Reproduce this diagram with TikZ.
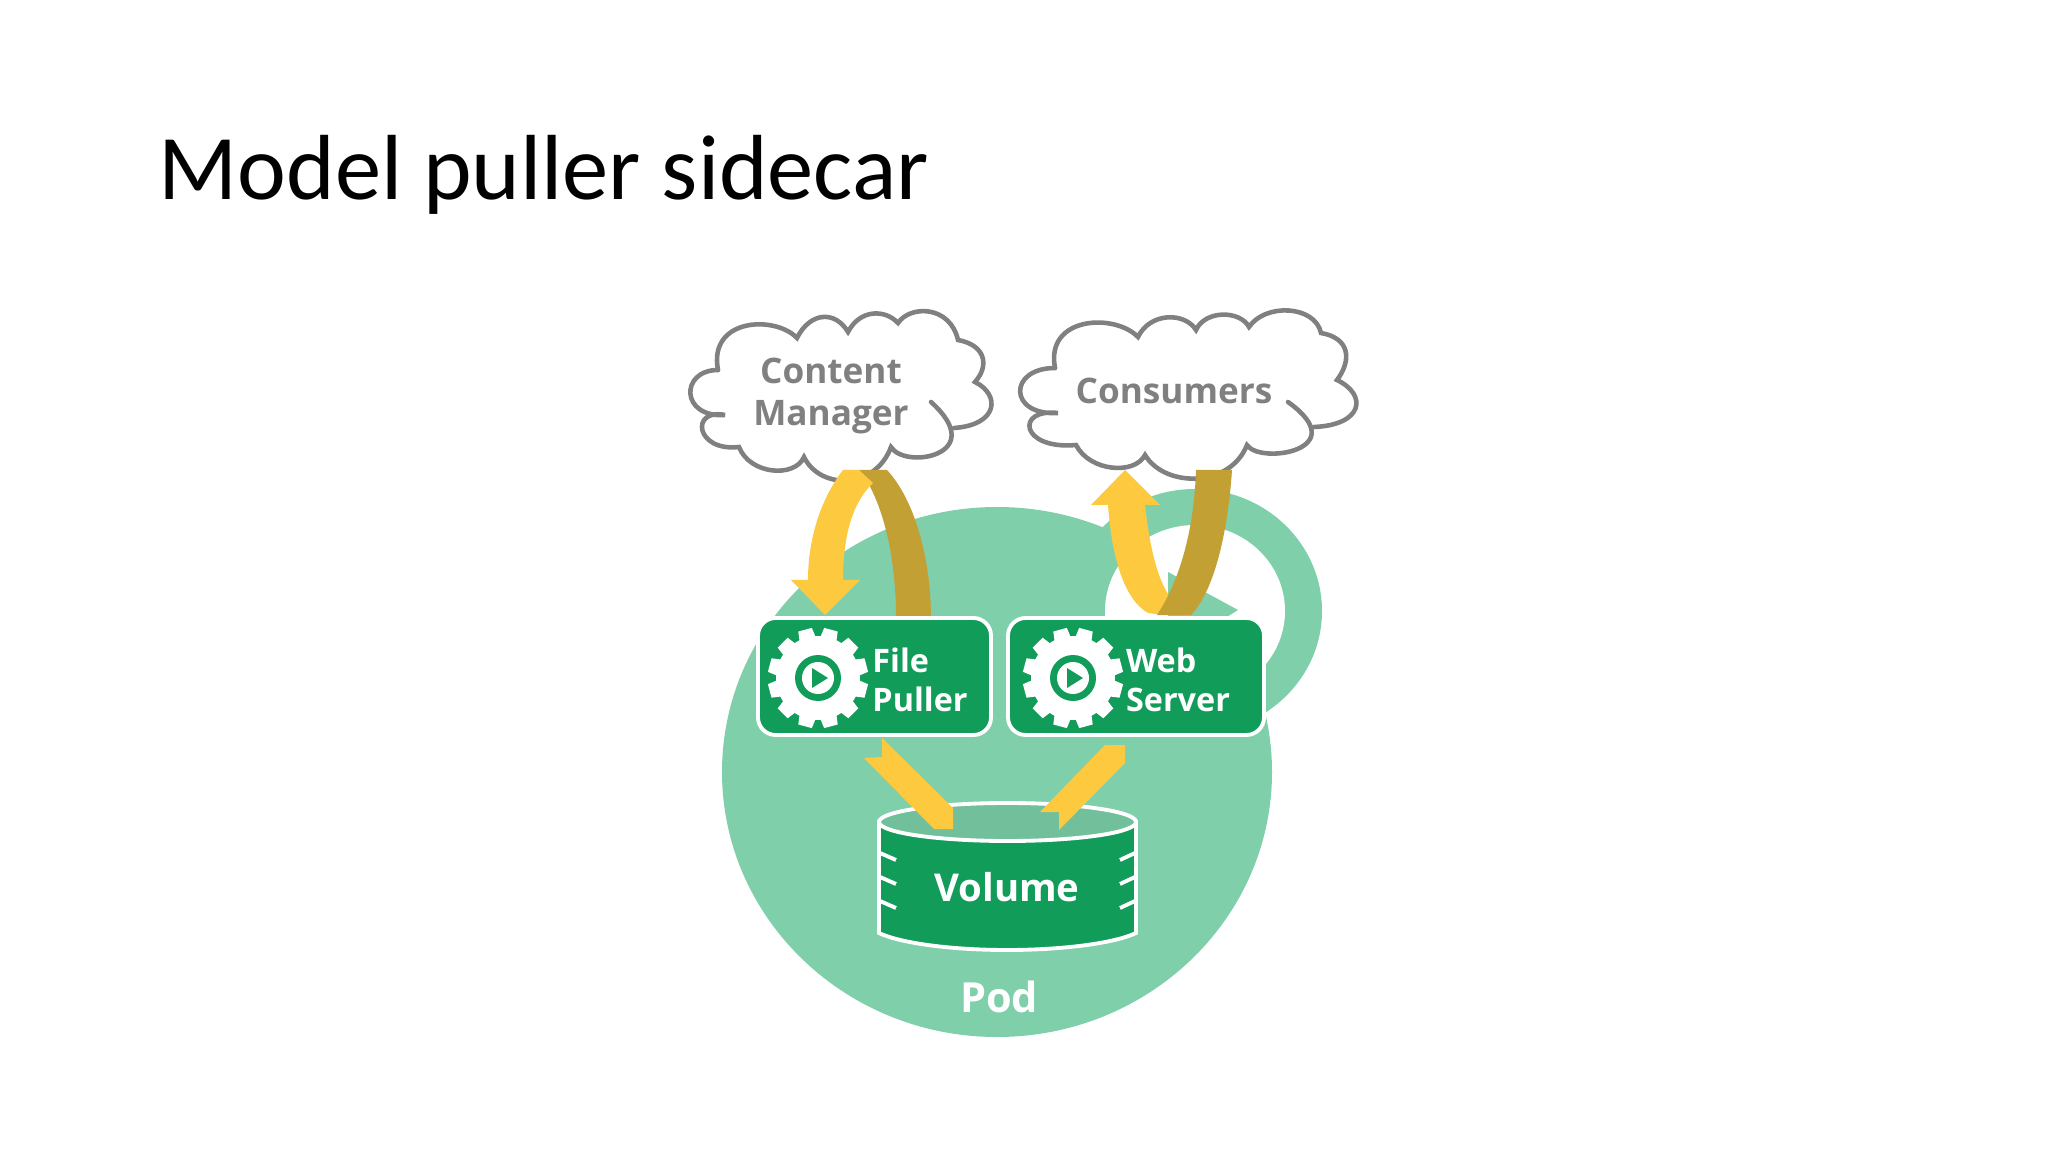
\documentclass[tikz,border=0pt]{standalone}
\usepackage{fontspec}
\usepackage{xcolor}
\setmainfont{Open Sans}
\newfontfamily\titlefont{Carlito}
\definecolor{podgreen}{HTML}{80CFAB}
\definecolor{boxgreen}{HTML}{129C5A}
\definecolor{lidgreen}{HTML}{72BF9B}
\definecolor{ribbonyellow}{HTML}{FCC93F}
\definecolor{ribbondark}{HTML}{C3A033}
\definecolor{cloudgray}{HTML}{808080}
\tikzset{
  cloudline/.style={draw=cloudgray,line width=1.3pt,line cap=round},
  cloudtext/.style={text=cloudgray,font=\bfseries\fontsize{10}{12}\selectfont,align=center,inner sep=0pt},
  boxlabel/.style={text=white,font=\bfseries\fontsize{9.2}{11.1}\selectfont,align=left,inner sep=0pt},
  sidecarbox/.style={draw=white,fill=boxgreen,line width=1.1pt,rounded corners=5pt,inner sep=0pt},
  gearicon/.pic={
    \fill[white] (0,0) circle (42);
    \foreach \a in {0,30,...,330}
      \fill[white,rotate=\a+15] (-9,-35) -- (-7,-50) -- (7,-50) -- (9,-35) -- cycle;
    \fill[boxgreen] (0,0) circle (23);
    \fill[white] (0,0) circle (16);
    \fill[boxgreen] (-6,-10) -- (10,0) -- (-6,10) -- cycle;
  },
}

\begin{document}
\begin{tikzpicture}[x=0.01cm,y=-0.01cm]
        \useasboundingbox (0,0) rectangle (2048,1152);
        \fill[white] (0,0) rectangle (2048,1152);
        \node[anchor=base west,inner sep=0pt,font=\titlefont\fontsize{26.3}{30}\selectfont] (title) at (158,200) {Model puller sidecar};

        % pod with its loop
        \fill[podgreen] (1195,611) ellipse (127 and 122);
        \fill[podgreen] (997,772) ellipse (275 and 265);
        \fill[white] (1195,611) ellipse (90 and 86);
        \fill[podgreen] (1168,572) -- (1238,610) -- (1222,620) -- (1168,620) -- cycle;
        \node[text=white,font=\bfseries\fontsize{11.8}{13}\selectfont,inner sep=0pt] (pod) at (999,997) {Pod};

        % clouds
        \draw[cloudline] (718,370) .. controls (680,370) and (680,418) .. (725,415)
          .. controls (690,408) and (695,452) .. (739,447)
          .. controls (750,475) and (795,478) .. (804,457)
          .. controls (820,490) and (875,490) .. (891,447)
          .. controls (905,470) and (990,455) .. (931,402);
        \draw[cloudline] (954,428) .. controls (998,425) and (1001,395) .. (975,382)
          .. controls (990,365) and (985,345) .. (958,340)
          .. controls (950,305) and (910,305) .. (898,323)
          .. controls (885,309) and (860,309) .. (848,332)
          .. controls (835,310) and (810,312) .. (797,338)
          .. controls (775,315) and (708,318) .. (718,370);
        \draw[cloudline] (1055,368) .. controls (1008,368) and (1008,416) .. (1058,413)
          .. controls (1015,408) and (1020,450) .. (1076,445)
          .. controls (1090,472) and (1135,475) .. (1145,455)
          .. controls (1165,488) and (1230,488) .. (1247,445)
          .. controls (1260,465) and (1355,450) .. (1288,402);
        \draw[cloudline] (1314,427) .. controls (1363,425) and (1368,395) .. (1337,380)
          .. controls (1352,360) and (1350,338) .. (1321,333)
          .. controls (1315,305) and (1265,303) .. (1249,327)
          .. controls (1240,310) and (1205,310) .. (1196,330)
          .. controls (1185,312) and (1150,312) .. (1138,337)
          .. controls (1115,313) and (1045,316) .. (1055,368);
        \node[cloudtext] (manager) at (831,396) {Content\\Manager};
        \node[cloudtext] (consumers) at (1174,391) {Consumers};

        % ribbons between clouds and boxes
        \fill[ribbondark] (859,470) .. controls (880,495) and (896,550) .. (896,618)
          -- (931,618) .. controls (931,560) and (915,500) .. (887,470) -- cycle;
        \fill[ribbonyellow] (843,470) .. controls (820,500) and (808,540) .. (808,580)
          -- (791,580) -- (825,615) -- (860,580) -- (843,580)
          .. controls (843,530) and (855,500) .. (873,483) -- (859,470) -- cycle;
        \fill[ribbonyellow] (1125,470) -- (1160,505) -- (1145,505)
          .. controls (1150,550) and (1158,580) .. (1170,597) -- (1164,615) -- (1148,613)
          .. controls (1125,600) and (1112,560) .. (1108,505) -- (1091,505) -- cycle;
        \fill[ribbondark] (1196,470) .. controls (1194,530) and (1180,580) .. (1157,615)
          -- (1191,615) .. controls (1215,590) and (1228,530) .. (1232,470) -- cycle;

        % sidecar boxes
        \node[sidecarbox,minimum width=233*0.01cm,minimum height=117*0.01cm] (filepuller) at (874.5,676.5) {};
        \node[sidecarbox,minimum width=256*0.01cm,minimum height=117*0.01cm] (webserver) at (1136,676.5) {};
        \pic at (818,678) {gearicon};
        \pic at (1073,678) {gearicon};
        \node[boxlabel] (filelabel) at (920,680) {File\\Puller};
        \node[boxlabel] (weblabel) at (1178,680) {Web\\Server};

        % volume
        \filldraw[draw=white,fill=boxgreen,line width=1.1pt] (879,822) -- (879,933)
          .. controls (900,943) and (950,950) .. (1007,950) .. controls (1064,950) and (1115,943) .. (1136,933)
          -- (1136,822) -- cycle;
        \filldraw[draw=white,fill=lidgreen,line width=1.1pt] (1007.5,822) ellipse (128.5 and 19);
        \foreach \y in {853,877,901} {
          \draw[white,line width=1.1pt] (880,\y) -- (896,\y+7);
          \draw[white,line width=1.1pt] (1135,\y) -- (1120,\y+7);
        }
        \node[text=white,font=\bfseries\fontsize{10.9}{13}\selectfont,inner sep=0pt] (volume) at (1007,887) {Volume};

        % ribbons into the volume
        \fill[ribbonyellow] (882,738) -- (953,808) -- (953,829) -- (934,829) -- (864,758) -- (882,757) -- cycle;
        \fill[ribbonyellow] (1105,745) -- (1125,745) -- (1125,763) -- (1059,830) -- (1059,812) -- (1040,812) -- cycle;
\end{tikzpicture}
\end{document}
